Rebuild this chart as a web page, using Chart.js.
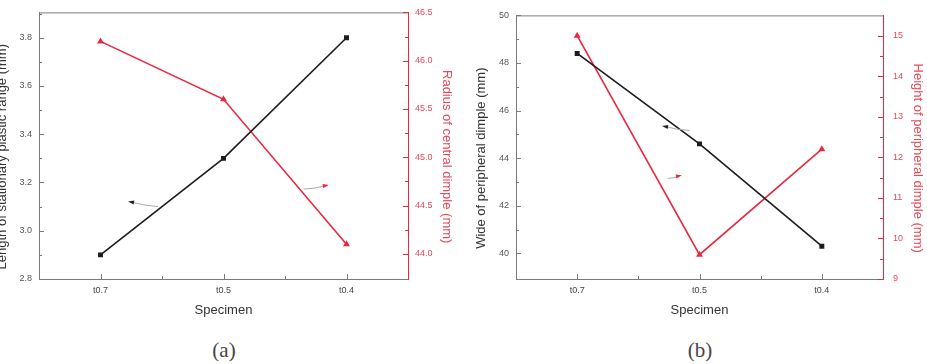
<!DOCTYPE html>
<html><head><meta charset="utf-8">
<script src="https://cdn.jsdelivr.net/npm/chart.js@4/dist/chart.umd.min.js"></script>
<style>
html,body{margin:0;padding:0;background:#fff;width:927px;height:364px;overflow:hidden;position:relative}
#wa{position:absolute;left:-4px;top:0;width:467px;height:325px}
#wb{position:absolute;left:463px;top:0;width:464px;height:325px}
.cap{position:absolute;top:338px;font-family:"Liberation Serif","DejaVu Serif",serif;font-size:21px;line-height:24px;color:#444;transform:translateX(-50%)}
</style></head><body>
<div id="wa"><canvas id="ca" width="467" height="325"></canvas></div>
<div id="wb"><canvas id="cb" width="464" height="325"></canvas></div>
<div class="cap" style="left:224px">(a)</div>
<div class="cap" style="left:700px">(b)</div>
<script>
const categories = ['t0.7', 't0.5', 't0.4'];
const lengthStationary = [2.9, 3.3, 3.8];
const radiusCentral = [46.2, 45.6, 44.1];
const widePeripheral = [48.4, 44.6, 40.3];
const heightPeripheral = [15.0, 9.6, 12.2];
const ticksLeftA = [2.8, 3.0, 3.2, 3.4, 3.6, 3.8];
const ticksRightA = [44.0, 44.5, 45.0, 45.5, 46.0, 46.5];
const ticksLeftB = [40, 42, 44, 46, 48, 50];
const ticksRightB = [9, 10, 11, 12, 13, 14, 15];
const rangeLeftA = [2.8, 3.905];
const rangeRightA = [43.74, 46.5];
const rangeLeftB = [38.92, 50];
const rangeRightB = [9, 15.5];
// annotation arrows: [xIndexTail, yTail, xIndexHead, yHead, axis, color]
const arrowsA = [[0.47, 3.10, 0.24, 3.12, 'y', '#222'], [1.65, 44.67, 1.84, 44.71, 'y2', '#e8283f']];
const arrowsB = [[0.92, 45.16, 0.71, 45.34, 'y', '#222'], [0.74, 11.48, 0.84, 11.55, 'y2', '#e8283f']];

const BLACK = '#1c1c1c', RED = '#e8283f', FRAME = '#7a7a7a', RLABEL = '#e5495a';
const FONT = '"Liberation Sans", Arial, sans-serif';

const decorPlugin = {
  id: 'decor',
  afterDraw(chart, args, o) {
    const ctx = chart.ctx, a = chart.chartArea;
    ctx.save();
    // top frame
    ctx.strokeStyle = FRAME; ctx.lineWidth = 1;
    ctx.beginPath(); ctx.moveTo(a.left, a.top + 0.5); ctx.lineTo(a.right, a.top + 0.5); ctx.stroke();
    // inward ticks
    const drawY = (scale, vals, color, side) => {
      ctx.strokeStyle = color; ctx.lineWidth = 1;
      const x0 = side === 'left' ? a.left : a.right, dir = side === 'left' ? 1 : -1;
      const minors = [];
      for (let i = 0; i < vals.length - 1; i++) minors.push((vals[i] + vals[i + 1]) / 2);
      const step = vals[1] - vals[0];
      minors.push(vals[vals.length - 1] + step / 2, vals[0] - step / 2);
      vals.forEach(v => { const p = Math.round(scale.getPixelForValue(v)) + 0.5; if (p >= a.top - 1 && p <= a.bottom + 1) { ctx.beginPath(); ctx.moveTo(x0, p); ctx.lineTo(x0 + dir * 5, p); ctx.stroke(); } });
      minors.forEach(v => { const p = Math.round(scale.getPixelForValue(v)) + 0.5; if (p > a.top + 2 && p < a.bottom - 2) { ctx.beginPath(); ctx.moveTo(x0, p); ctx.lineTo(x0 + dir * 3, p); ctx.stroke(); } });
    };
    drawY(chart.scales.y, o.leftTicks, FRAME, 'left');
    drawY(chart.scales.y2, o.rightTicks, RED, 'right');
    const xs = chart.scales.x;
    ctx.strokeStyle = FRAME;
    for (let i = 0; i < categories.length; i++) {
      const p = Math.round(xs.getPixelForValue(i)) + 0.5;
      ctx.beginPath(); ctx.moveTo(p, a.bottom); ctx.lineTo(p, a.bottom - 5); ctx.stroke();
      if (i < categories.length - 1) {
        const m = Math.round(xs.getPixelForValue(i + 0.5)) + 0.5;
        ctx.beginPath(); ctx.moveTo(m, a.bottom); ctx.lineTo(m, a.bottom - 3); ctx.stroke();
      }
    }
    // axis titles
    ctx.font = '13px ' + FONT;
    ctx.textAlign = 'center'; ctx.textBaseline = 'middle';
    const cy = (a.top + a.bottom) / 2 + 11;
    ctx.save(); ctx.translate(a.left - o.leftTitleOff, cy); ctx.rotate(-Math.PI / 2);
    ctx.fillStyle = '#333'; ctx.fillText(o.leftTitle, 0, 0); ctx.restore();
    ctx.save(); ctx.translate(a.right + o.rightTitleOff, cy); ctx.rotate(Math.PI / 2);
    ctx.fillStyle = RLABEL; ctx.fillText(o.rightTitle, 0, 0); ctx.restore();
    // annotation arrows
    o.arrows.forEach(([xt, yt, xh, yh, ax, col]) => {
      const ys = chart.scales[ax];
      const tx = xs.getPixelForValue(xt), ty = ys.getPixelForValue(yt);
      const hx = xs.getPixelForValue(xh), hy = ys.getPixelForValue(yh);
      ctx.strokeStyle = '#a8a8a8'; ctx.lineWidth = 1;
      ctx.beginPath(); ctx.moveTo(tx, ty); ctx.quadraticCurveTo((tx + hx) / 2, (ty + hy) / 2 + 1.5, hx, hy); ctx.stroke();
      const ang = Math.atan2(hy - ty, hx - tx);
      ctx.fillStyle = col;
      ctx.beginPath();
      ctx.moveTo(hx + Math.cos(ang) * 2, hy + Math.sin(ang) * 2);
      ctx.lineTo(hx - Math.cos(ang) * 4 + Math.sin(ang) * 2, hy - Math.sin(ang) * 4 - Math.cos(ang) * 2);
      ctx.lineTo(hx - Math.cos(ang) * 4 - Math.sin(ang) * 2, hy - Math.sin(ang) * 4 + Math.cos(ang) * 2);
      ctx.closePath(); ctx.fill();
    });
    ctx.restore();
  }
};

function makeChart(id, cfg) {
  const setTicks = vals => scale => { scale.ticks = vals.map(v => ({ value: v })); };
  return new Chart(document.getElementById(id), {
    type: 'line',
    data: {
      labels: categories,
      datasets: [
        { label: cfg.leftTitle, data: cfg.leftData, yAxisID: 'y', borderColor: BLACK, backgroundColor: BLACK, borderWidth: 1.6,
          pointStyle: 'rect', pointRadius: 3.5, pointBorderWidth: 0, tension: 0, fill: false },
        { label: cfg.rightTitle, data: cfg.rightData, yAxisID: 'y2', borderColor: RED, backgroundColor: RED, borderWidth: 1.6,
          pointStyle: 'triangle', pointRadius: 4, pointBorderWidth: 0, tension: 0, fill: false }
      ]
    },
    options: {
      responsive: false, animation: false, devicePixelRatio: 1,
      layout: { padding: { top: 9, left: 0, right: 0, bottom: 0 } },
      plugins: {
        legend: { display: false }, tooltip: { enabled: false },
        decor: { leftTicks: cfg.leftTicks, rightTicks: cfg.rightTicks, leftTitle: cfg.leftTitle, rightTitle: cfg.rightTitle,
          leftTitleOff: cfg.leftTitleOff, rightTitleOff: cfg.rightTitleOff, arrows: cfg.arrows }
      },
      scales: {
        x: {
          type: 'category', offset: true,
          grid: { display: false, drawTicks: false },
          border: { display: true, color: FRAME, width: 1 },
          ticks: { color: '#444', font: { family: FONT, size: 9 }, padding: 6, maxRotation: 0 },
          title: { display: true, text: 'Specimen', color: '#333', font: { family: FONT, size: 13 }, padding: { top: 0, bottom: 7 } },
          afterFit: s => { s.height = 46; }
        },
        y: {
          position: 'left', min: cfg.leftRange[0], max: cfg.leftRange[1],
          grid: { display: false, drawTicks: false },
          border: { display: true, color: FRAME, width: 1 },
          afterBuildTicks: setTicks(cfg.leftTicks),
          ticks: { color: '#555', font: { family: FONT, size: 9 }, padding: 7, callback: cfg.leftFmt },
          afterFit: s => { s.width = cfg.leftW; }
        },
        y2: {
          position: 'right', min: cfg.rightRange[0], max: cfg.rightRange[1],
          grid: { display: false, drawTicks: false },
          border: { display: true, color: RED, width: 1 },
          afterBuildTicks: setTicks(cfg.rightTicks),
          ticks: { color: RLABEL, font: { family: FONT, size: 9 }, padding: cfg.rightPad, callback: cfg.rightFmt },
          afterFit: s => { s.width = cfg.rightW; }
        }
      }
    },
    plugins: [decorPlugin]
  });
}

makeChart('ca', {
  leftData: lengthStationary, rightData: radiusCentral,
  leftTicks: ticksLeftA, rightTicks: ticksRightA, leftRange: rangeLeftA, rightRange: rangeRightA,
  leftTitle: 'Length of stationary plastic range (mm)', rightTitle: 'Radius of central dimple (mm)',
  leftFmt: v => Number(v).toFixed(1), rightFmt: v => Number(v).toFixed(1),
  leftW: 43, rightW: 55, rightPad: 7, leftTitleOff: 37, rightTitleOff: 39, arrows: arrowsA
});
makeChart('cb', {
  leftData: widePeripheral, rightData: heightPeripheral,
  leftTicks: ticksLeftB, rightTicks: ticksRightB, leftRange: rangeLeftB, rightRange: rangeRightB,
  leftTitle: 'Wide of peripheral dimple (mm)', rightTitle: 'Height of peripheral dimple (mm)',
  leftFmt: v => String(v), rightFmt: v => String(v),
  leftW: 53, rightW: 44, rightPad: 10, leftTitleOff: 35, rightTitleOff: 35, arrows: arrowsB
});
</script>
</body></html>
